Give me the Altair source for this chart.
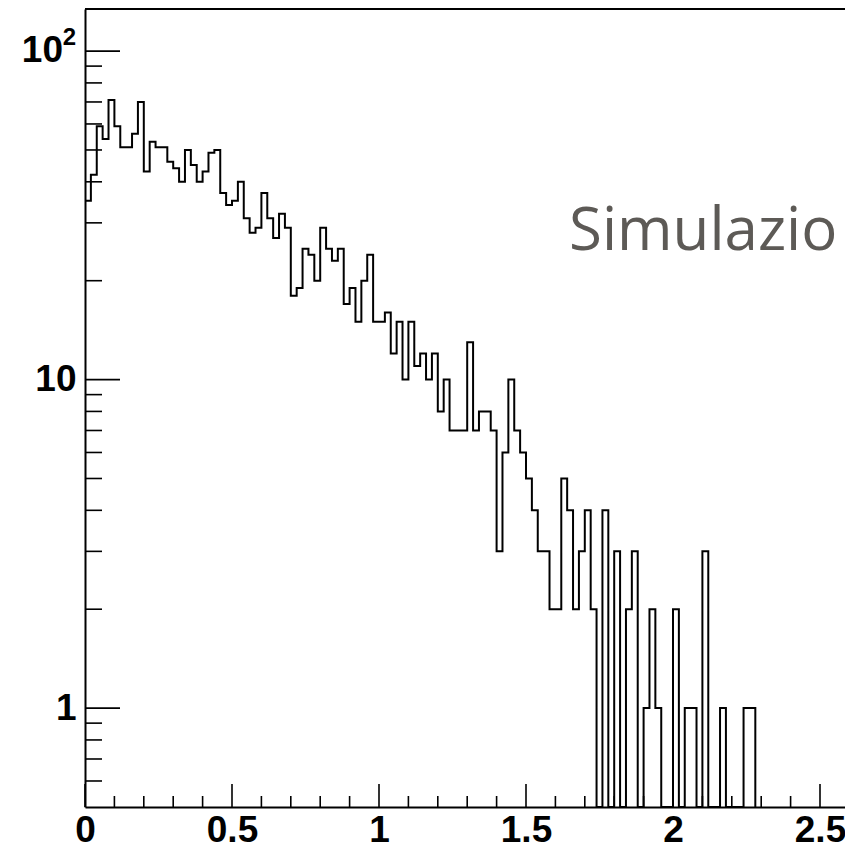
import altair as alt
import pandas as pd

# ---- data ----
bin_width = 0.02
counts = [35, 42, 59, 54, 71, 59, 51, 51, 56, 70,
          43, 53, 51, 51, 46, 44, 40, 50, 45, 40,
          43, 49, 50, 37, 34, 35, 40, 31, 28, 29,
          37, 31, 27, 32, 29, 18, 19, 25, 24, 20,
          29, 25, 23, 25, 17, 19, 15, 20, 24, 15,
          15, 16, 12, 15, 10, 15, 11, 12, 10, 12,
          8, 10, 7, 7, 7, 13, 7, 8, 8, 7,
          3, 6, 10, 7, 6, 5, 4, 3, 3, 2,
          2, 5, 4, 2, 3, 4, 2, 0, 4, 0,
          3, 0, 2, 3, 0, 1, 2, 1, 0, 0,
          2, 0, 1, 1, 0, 3, 0, 0, 1, 0,
          0, 0, 1, 1]
x_major = [0, 0.5, 1, 1.5, 2, 2.5]
x_minor = [0.1, 0.2, 0.3, 0.4, 0.6, 0.7, 0.8, 0.9, 1.1, 1.2, 1.3, 1.4,
           1.6, 1.7, 1.8, 1.9, 2.1, 2.2, 2.3, 2.4]
y_major = [1, 10, 100]
y_labelled = [1, 10]
y_power_base = ["10"]
y_power_exp = ["2"]
y_power_value = [100]
y_minor = [0.6, 0.7, 0.8, 0.9, 2, 3, 4, 5, 6, 7, 8, 9,
           20, 30, 40, 50, 60, 70, 80, 90]
overlay_text = ["Simulazio"]

# ---- layout ----
PLOT_W = 760
PLOT_H = 798
X_MAX = 760 / 294.0
Y_MIN = 0.5
Y_MAX = 134.3
LABEL_FONT = "Liberation Sans"
LABEL_SIZE = 37

edges = [round(i * bin_width, 4) for i in range(len(counts) + 1)]
hist_df = pd.DataFrame({"x": edges, "count": counts + [0]})

x_scale = alt.Scale(domain=[0, X_MAX], nice=False, zero=False)
y_scale = alt.Scale(type="log", domain=[Y_MIN, Y_MAX], nice=False, clamp=True)

x_enc = alt.X("x:Q", scale=x_scale, title=None,
              axis=alt.Axis(values=x_major, format="~g", ticks=False, grid=False,
                            labelPadding=5, labelFlush=False, domain=True))
y_enc = alt.Y("y_plot:Q", scale=y_scale, title=None,
              axis=alt.Axis(values=y_labelled, ticks=False, grid=False, labelPadding=9,
                            labelFlush=False,
                            labelExpr="datum.value >= 10 ? '10' : '1'",
                            domain=True))

hist = alt.Chart(hist_df).transform_calculate(
    y_plot="max(datum.count, 0.3)"
).mark_line(interpolate="step-after", color="black", strokeWidth=2).encode(
    x=x_enc, y=y_enc
)

xmaj = alt.Chart(pd.DataFrame({"x": x_major})).mark_rule(color="black", strokeWidth=1.6).encode(
    x=x_enc, y=alt.value(PLOT_H), y2=alt.value(PLOT_H - 23))
xmin = alt.Chart(pd.DataFrame({"x": x_minor})).mark_rule(color="black", strokeWidth=1.6).encode(
    x=x_enc, y=alt.value(PLOT_H), y2=alt.value(PLOT_H - 11))
ymaj = alt.Chart(pd.DataFrame({"y_plot": y_major})).mark_rule(color="black", strokeWidth=1.6).encode(
    y=y_enc, x=alt.value(0), x2=alt.value(35))
ymin = alt.Chart(pd.DataFrame({"y_plot": y_minor})).mark_rule(color="black", strokeWidth=1.6).encode(
    y=y_enc, x=alt.value(0), x2=alt.value(17))

pow_df = pd.DataFrame({"y_plot": y_power_value, "base": y_power_base, "exp": y_power_exp})
pow_base = alt.Chart(pow_df).mark_text(
    align="right", baseline="middle", font=LABEL_FONT, fontWeight="bold",
    fontSize=LABEL_SIZE, color="black", clip=False
).encode(y=y_enc, x=alt.value(-22), text="base:N")
pow_exp = alt.Chart(pow_df).mark_text(
    align="right", baseline="middle", font=LABEL_FONT, fontWeight="bold",
    fontSize=24, color="black", dy=-13, clip=False
).encode(y=y_enc, x=alt.value(-9), text="exp:N")

top_frame = alt.Chart(pd.DataFrame({"a": [0]})).mark_rule(color="black", strokeWidth=2).encode(
    x=alt.value(0), x2=alt.value(PLOT_W), y=alt.value(0))

label = alt.Chart(pd.DataFrame({"label": overlay_text})).mark_text(
    align="left", baseline="alphabetic", font="Open Sans", fontSize=60, color="#5d5a56"
).encode(x=alt.value(484), y=alt.value(241), text="label:N")

chart = alt.layer(hist, xmin, xmaj, ymin, ymaj, pow_base, pow_exp, top_frame, label).properties(
    width=PLOT_W, height=PLOT_H, autosize="none",
    padding={"left": 85, "top": 9, "right": 0, "bottom": 43},
    background="white",
).configure_view(stroke=None).configure_axis(
    domainColor="black", domainWidth=2, labelFont=LABEL_FONT,
    labelFontWeight="bold", labelFontSize=LABEL_SIZE, labelColor="black"
)

chart.save("out.html", embed_options={"renderer": "svg", "actions": False})
